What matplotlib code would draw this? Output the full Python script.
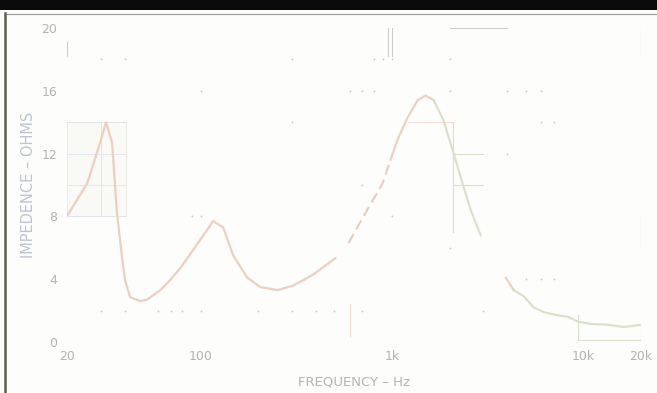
import matplotlib
matplotlib.use("Agg")
import matplotlib.pyplot as plt
from matplotlib.patches import Rectangle
from matplotlib.lines import Line2D

# ---- data ----
# segment A: 20 Hz .. ~500 Hz
freq_a = [20.2, 25.5, 29.8, 32.0, 34.4, 36.5, 38.8, 40.2, 42.7, 48.2, 52.5, 61.4, 69.2,
          78.1, 99.4, 116, 131, 148, 175, 205, 252, 305, 388, 506]
ohm_a = [8.1, 10.1, 12.7, 14.0, 12.7, 8.2, 5.4, 3.95, 2.87, 2.6, 2.7, 3.3, 3.95,
         4.7, 6.5, 7.7, 7.3, 5.5, 4.1, 3.5, 3.3, 3.6, 4.3, 5.35]
# segment B (dashed rise): ~600 Hz .. 1 kHz
freq_b1 = [592, 709, 892, 982]
ohm_b1 = [6.3, 8.0, 10.1, 11.6]
# segment B (solid): 1 kHz .. 2.9 kHz
freq_b2 = [982, 1068, 1206, 1360, 1497, 1650, 1860, 2074, 2284, 2576, 2906]
ohm_b2 = [11.6, 12.9, 14.3, 15.4, 15.7, 15.4, 14.1, 12.2, 10.5, 8.4, 6.8]
# segment C: ~4 kHz .. 20 kHz
freq_c = [3930, 4326, 4880, 5507, 6212, 7353, 8296, 9361, 10946, 13436, 16293, 20000]
ohm_c = [4.1, 3.3, 2.9, 2.2, 1.9, 1.7, 1.6, 1.3, 1.15, 1.1, 0.95, 1.1]

x_ticks = [20, 100, 1000, 10000, 20000]
x_ticklabels = ["20", "100", "1k", "10k", "20k"]
y_ticks = [0, 4, 8, 12, 16, 20]
y_ticklabels = ["0", "4", "8", "12", "16", "20"]

# faint grid crosses left over from the printed chart paper (freq, ohms)
mark_f = [100, 30, 40, 60, 70, 80, 100, 200, 300, 400, 500, 700, 800, 900, 1000,
          600, 700, 800, 2000, 4000, 5000, 6000, 6000, 7000, 5000, 6000, 7000,
          30, 40, 90, 100, 300, 700, 1000, 2000, 4000, 3000, 300, 2000]
mark_o = [16, 2, 2, 2, 2, 2, 2, 2, 2, 2, 2, 2, 18, 18, 18,
          16, 16, 16, 16, 16, 16, 16, 14, 14, 4, 4, 4,
          18, 18, 8, 8, 14, 10, 8, 6, 12, 2, 18, 18]

TEXT = (0.70, 0.70, 0.70)
BLUE_TEXT = (0.74, 0.77, 0.81)
PINK = (0.93, 0.81, 0.75)
GREEN = (0.85, 0.88, 0.79)
MARK = (0.80, 0.80, 0.80)

fig = plt.figure(figsize=(6.57, 3.93), dpi=100)
fig.patch.set_facecolor("#fdfdfb")

# frame of the scanned page: black band on top, dark rule on the left
fig.add_artist(Rectangle((0, 1 - 10 / 393), 1, 10 / 393, transform=fig.transFigure,
                         facecolor="#0a0a0a", edgecolor="none"))
fig.add_artist(Line2D([5 / 657, 1], [1 - 14 / 393, 1 - 14 / 393], transform=fig.transFigure,
                      color="#a0a098", lw=0.9))
fig.add_artist(Line2D([5 / 657, 5 / 657], [0, 1 - 13 / 393], transform=fig.transFigure,
                      color="#5e5e52", lw=1.8))

ax = fig.add_axes([67 / 657, 1 - 342 / 393, (641 - 67) / 657, (342 - 28) / 393])
ax.set_facecolor("none")
ax.set_xscale("log")
ax.set_xlim(20, 20000)
ax.set_ylim(0, 20)
for s in ax.spines.values():
    s.set_visible(False)

ax.set_xticks(x_ticks)
ax.set_xticklabels(x_ticklabels)
ax.set_xticks([], minor=True)
ax.set_yticks(y_ticks)
ax.set_yticklabels(y_ticklabels)
ax.tick_params(axis="both", length=0, labelsize=9, labelcolor=TEXT)
ax.tick_params(axis="x", pad=6)
ax.tick_params(axis="y", pad=7)

ax.set_xlabel("FREQUENCY – Hz", fontsize=9.5, color=TEXT, labelpad=9)
ax.set_ylabel("IMPEDENCE – OHMS", fontsize=10.5, color=BLUE_TEXT, labelpad=4)

# faint inset grid patch at upper left
ax.add_patch(Rectangle((20, 8), 20.5, 6, facecolor=(0.975, 0.975, 0.96), edgecolor=(0.91, 0.91, 0.89), lw=0.6, zorder=1))
for yy in [8, 10, 12, 14]:
    ax.plot([20, 40.5], [yy, yy], color=(0.87, 0.89, 0.93), lw=0.6, zorder=1)
ax.plot([30, 30], [8, 14], color=(0.87, 0.89, 0.93), lw=0.6, zorder=1)

# lines around the 1.5 kHz peak and lower right box
ax.plot([1206, 2074], [14, 14], color=(0.95, 0.88, 0.84), lw=0.8, zorder=1)
ax.plot([2074, 3000], [12, 12], color=GREEN, lw=0.8, zorder=1)
ax.plot([2074, 3000], [10, 10], color=GREEN, lw=0.8, zorder=1)
ax.plot([2074, 2074], [7, 14], color=GREEN, lw=0.8, zorder=1)
ax.plot([9361, 20000], [0.1, 0.1], color=GREEN, lw=0.8, zorder=1)
ax.plot([9361, 9361], [0.1, 1.7], color=GREEN, lw=0.8, zorder=1)
ax.plot([20000, 20000], [0.1, 1.5], color=GREEN, lw=0.8, zorder=1)
ax.plot([20000, 20000], [18.2, 20], color=MARK, lw=0.8, zorder=1)
ax.plot([20000, 20000], [6, 8], color=MARK, lw=0.8, zorder=1)
ax.plot([950, 950], [18.2, 20], color=MARK, lw=0.8, zorder=1)
ax.plot([1000, 1000], [18.2, 20], color=MARK, lw=0.8, zorder=1)
ax.plot([2000, 4000], [20, 20], color=MARK, lw=0.8, zorder=1)
ax.plot([600, 600], [0.4, 2.4], color=(0.93, 0.85, 0.82), lw=0.8, zorder=1)
ax.plot([20, 20], [18.2, 19.1], color=MARK, lw=0.8, zorder=1)

ax.scatter(mark_f, mark_o, s=3, marker="+", color=MARK, linewidths=0.6, zorder=1)

# impedance curve
ax.plot(freq_a, ohm_a, color=PINK, lw=1.6, solid_capstyle="round", solid_joinstyle="round", zorder=3)
ax.plot(freq_b1, ohm_b1, color=(0.88, 0.81, 0.76), lw=1.5, ls=(0, (5, 2.5)), zorder=3)
ax.plot(freq_b2[:6], ohm_b2[:6], color=PINK, lw=1.5, solid_joinstyle="round", zorder=3)
ax.plot(freq_b2[5:], ohm_b2[5:], color=GREEN, lw=1.5, solid_joinstyle="round", zorder=3)
ax.plot(freq_c[:2], ohm_c[:2], color=PINK, lw=1.5, zorder=3)
ax.plot(freq_c[1:], ohm_c[1:], color=GREEN, lw=1.5, solid_joinstyle="round", zorder=3)

fig.savefig("out.png", dpi=100, facecolor=fig.get_facecolor())
